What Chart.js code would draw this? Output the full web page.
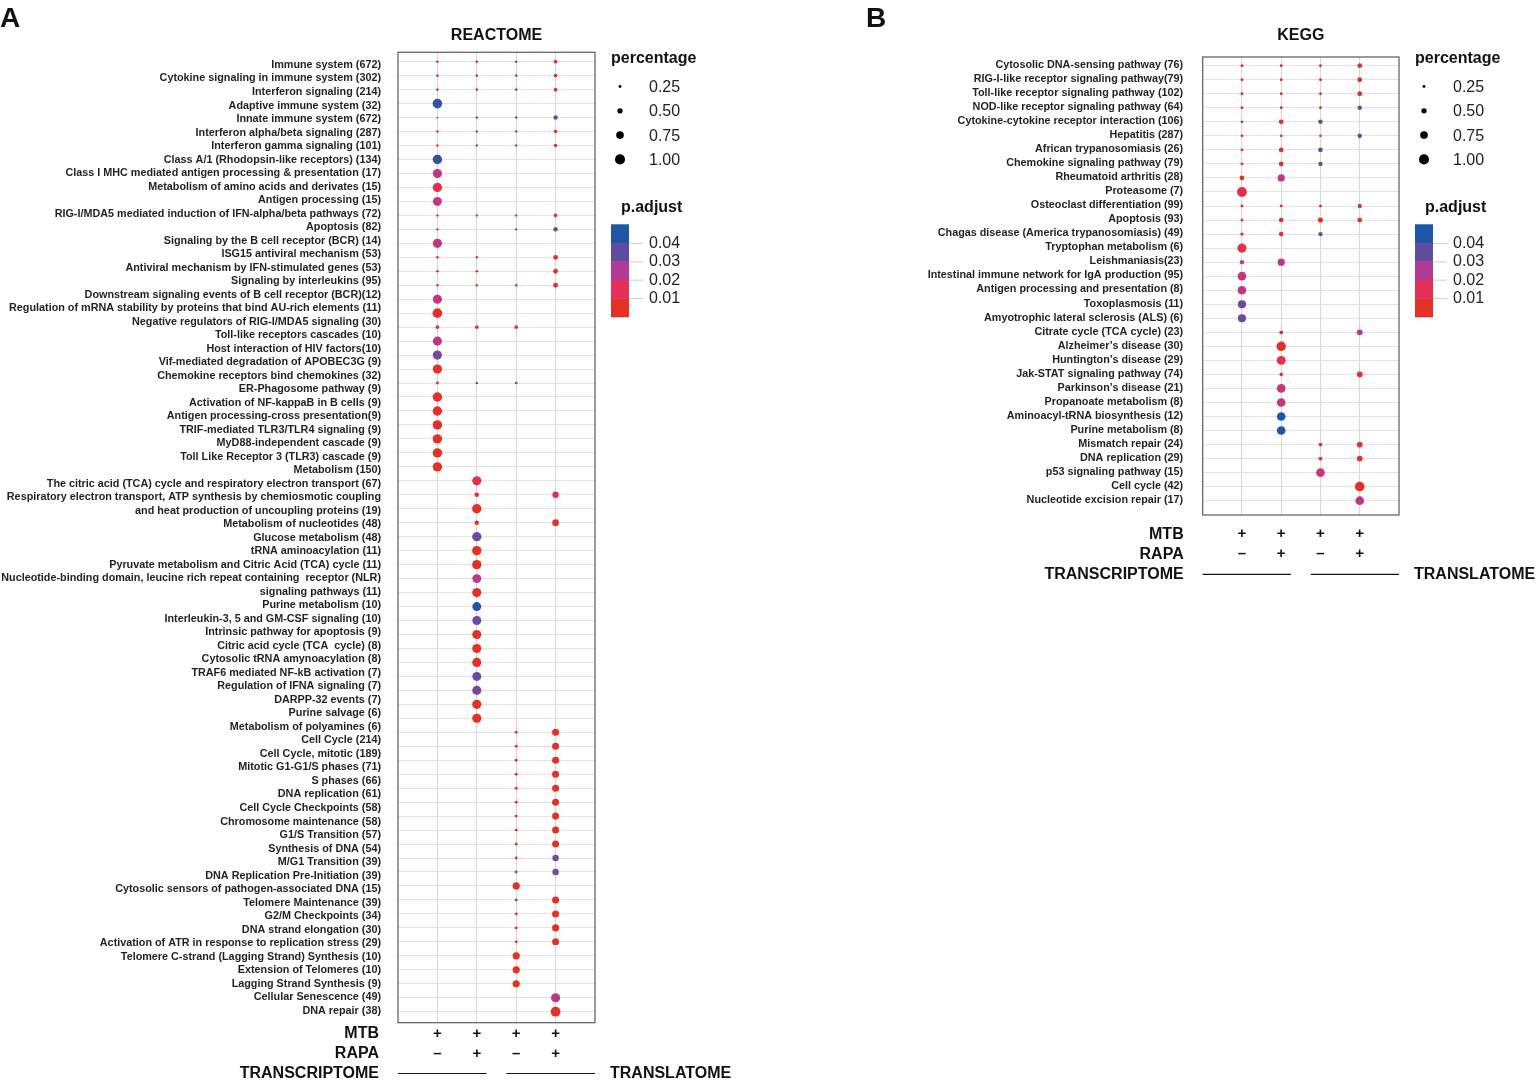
<!DOCTYPE html>
<html lang="en">
<head>
<meta charset="UTF-8">
<title>REACTOME / KEGG enrichment</title>
<script src="https://cdn.jsdelivr.net/npm/chart.js"></script>
<style>
  html, body { margin: 0; padding: 0; background: #fff; }
  body { width: 1536px; height: 1081px; position: relative; overflow: hidden; }
  canvas { position: absolute; top: 0; }
  #chartA { left: 0; width: 760px; height: 1081px; }
  #chartB { left: 860px; width: 676px; height: 1081px; }
</style>
</head>
<body>
<canvas id="chartA" width="760" height="1081"></canvas>
<canvas id="chartB" width="676" height="1081"></canvas>
<script>
const _ = null;

// columns: transcriptome (-/+ RAPA), translatome (-/+ RAPA)
const columnMTB = ['+', '+', '+', '+'];
const columnRAPA = ['–', '+', '–', '+'];
const sizeBreaks = [0.25, 0.50, 0.75, 1.00];
const padjBreaks = [0.04, 0.03, 0.02, 0.01];

// label lines as printed (two terms wrap over two lines, one line has no row of its own)
const reactomeLabels = [
  'Immune system (672)',
  'Cytokine signaling in immune system (302)',
  'Interferon signaling (214)',
  'Adaptive immune system (32)',
  'Innate immune system (672)',
  'Interferon alpha/beta signaling (287)',
  'Interferon gamma signaling (101)',
  'Class A/1 (Rhodopsin-like receptors) (134)',
  'Class I MHC mediated antigen processing & presentation (17)',
  'Metabolism of amino acids and derivates (15)',
  'Antigen processing (15)',
  'RIG-I/MDA5 mediated induction of IFN-alpha/beta pathways (72)',
  'Apoptosis (82)',
  'Signaling by the B cell receptor (BCR) (14)',
  'ISG15 antiviral mechanism (53)',
  'Antiviral mechanism by IFN-stimulated genes (53)',
  'Signaling by interleukins (95)',
  'Downstream signaling events of B cell receptor (BCR)(12)',
  'Regulation of mRNA stability by proteins that bind AU-rich elements (11)',
  'Negative regulators of RIG-I/MDA5 signaling (30)',
  'Toll-like receptors cascades (10)',
  'Host interaction of HIV factors(10)',
  'Vif-mediated degradation of APOBEC3G (9)',
  'Chemokine receptors bind chemokines (32)',
  'ER-Phagosome pathway (9)',
  'Activation of NF-kappaB in B cells (9)',
  'Antigen processing-cross presentation(9)',
  'TRIF-mediated TLR3/TLR4 signaling (9)',
  'MyD88-independent cascade (9)',
  'Toll Like Receptor 3 (TLR3) cascade (9)',
  'Metabolism (150)',
  'The citric acid (TCA) cycle and respiratory electron transport (67)',
  'Respiratory electron transport, ATP synthesis by chemiosmotic coupling',
  'and heat production of uncoupling proteins (19)',
  'Metabolism of nucleotides (48)',
  'Glucose metabolism (48)',
  'tRNA aminoacylation (11)',
  'Pyruvate metabolism and Citric Acid (TCA) cycle (11)',
  'Nucleotide-binding domain, leucine rich repeat containing  receptor (NLR)',
  'signaling pathways (11)',
  'Purine metabolism (10)',
  'Interleukin-3, 5 and GM-CSF signaling (10)',
  'Intrinsic pathway for apoptosis (9)',
  'Citric acid cycle (TCA  cycle) (8)',
  'Cytosolic tRNA amynoacylation (8)',
  'TRAF6 mediated NF-kB activation (7)',
  'Regulation of IFNA signaling (7)',
  'DARPP-32 events (7)',
  'Purine salvage (6)',
  'Metabolism of polyamines (6)',
  'Cell Cycle (214)',
  'Cell Cycle, mitotic (189)',
  'Mitotic G1-G1/S phases (71)',
  'S phases (66)',
  'DNA replication (61)',
  'Cell Cycle Checkpoints (58)',
  'Chromosome maintenance (58)',
  'G1/S Transition (57)',
  'Synthesis of DNA (54)',
  'M/G1 Transition (39)',
  'DNA Replication Pre-Initiation (39)',
  'Cytosolic sensors of pathogen-associated DNA (15)',
  'Telomere Maintenance (39)',
  'G2/M Checkpoints (34)',
  'DNA strand elongation (30)',
  'Activation of ATR in response to replication stress (29)',
  'Telomere C-strand (Lagging Strand) Synthesis (10)',
  'Extension of Telomeres (10)',
  'Lagging Strand Synthesis (9)',
  'Cellular Senescence (49)',
  'DNA repair (38)'
];

// percentage per column, one entry per dot row (null = not enriched)
const reactomePct1 = [
  .22, .22, .22, .95, .14, .2, .2, .93, .9, .92,
  .88, .2, .2, .9, .22, .22, .22, .9, .95, .32,
  .9, .9, .92, .25, .93, .93, .93, .93, .93, .93,
  _, _, _, _, _, _, _, _, _, _,
  _, _, _, _, _, _, _, _, _, _,
  _, _, _, _, _, _, _, _, _, _,
  _, _, _, _, _, _, _, _, _
];
const reactomePct2 = [
  .22, .22, .22, _, .2, .2, .2, _, _, _,
  _, .2, _, _, .22, .22, .22, _, _, .32,
  _, _, _, .22, _, _, _, _, _, _,
  .9, .42, .93, .42, .92, .92, .92, .88, .9, .88,
  .88, .9, .9, .9, .88, .9, .9, .9, _, _,
  _, _, _, _, _, _, _, _, _, _,
  _, _, _, _, _, _, _, _, _
];
const reactomePct3 = [
  .22, .22, .22, _, .2, .2, .2, _, _, _,
  _, .2, .2, _, _, _, .22, _, _, .32,
  _, _, _, .22, _, _, _, _, _, _,
  _, _, _, _, _, _, _, _, _, _,
  _, _, _, _, _, _, _, _, .25, .25,
  .25, .25, .25, .25, .25, .25, .25, .25, .25, .7,
  .25, .25, .25, .25, .7, .7, .7, _, _
];
const reactomePct4 = [
  .33, .33, .33, _, .42, .32, .32, _, _, _,
  _, .32, .42, _, .45, .45, .45, _, _, _,
  _, _, _, _, _, _, _, _, _, _,
  _, .62, _, .65, _, _, _, _, _, _,
  _, _, _, _, _, _, _, _, .68, .68,
  .68, .68, .68, .68, .68, .68, .68, .62, .62, _,
  .68, .68, .68, .68, _, _, _, .9, .97
];

// p.adjust per column
const reactomePadj1 = [
  .003, .003, .003, .042, .034, .003, .003, .042, .022, .012,
  .021, .003, .022, .022, .003, .003, .003, .021, .004, .003,
  .022, .032, .005, .004, .004, .004, .004, .004, .004, .004,
  _, _, _, _, _, _, _, _, _, _,
  _, _, _, _, _, _, _, _, _, _,
  _, _, _, _, _, _, _, _, _, _,
  _, _, _, _, _, _, _, _, _
];
const reactomePadj2 = [
  .003, .003, .003, _, .034, .003, .003, _, _, _,
  _, .003, _, _, .003, .003, .003, _, _, .003,
  _, _, _, .033, _, _, _, _, _, _,
  .012, .004, .004, .004, .033, .004, .004, .023, .004, .044,
  .033, .004, .004, .004, .033, .032, .004, .004, _, _,
  _, _, _, _, _, _, _, _, _, _,
  _, _, _, _, _, _, _, _, _
];
const reactomePadj3 = [
  .003, .003, .003, _, .034, .003, .003, _, _, _,
  _, .003, .022, _, _, _, .003, _, _, .003,
  _, _, _, .033, _, _, _, _, _, _,
  _, _, _, _, _, _, _, _, _, _,
  _, _, _, _, _, _, _, _, .005, .005,
  .005, .005, .005, .005, .005, .005, .005, .005, .005, .004,
  .005, .005, .005, .005, .004, .004, .004, _, _
];
const reactomePadj4 = [
  .004, .004, .004, _, .032, .004, .004, _, _, _,
  _, .004, .032, _, .004, .004, .004, _, _, _,
  _, _, _, _, _, _, _, _, _, _,
  _, .012, _, .005, _, _, _, _, _, _,
  _, _, _, _, _, _, _, _, .004, .004,
  .004, .004, .004, .004, .004, .004, .004, .033, .033, _,
  .004, .004, .004, .004, _, _, _, .023, .004
];

const keggLabels = [
  'Cytosolic DNA-sensing pathway (76)',
  'RIG-I-like receptor signaling pathway(79)',
  'Toll-like receptor signaling pathway (102)',
  'NOD-like receptor signaling pathway (64)',
  'Cytokine-cytokine receptor interaction (106)',
  'Hepatitis (287)',
  'African trypanosomiasis (26)',
  'Chemokine signaling pathway (79)',
  'Rheumatoid arthritis (28)',
  'Proteasome (7)',
  'Osteoclast differentiation (99)',
  'Apoptosis (93)',
  'Chagas disease (America trypanosomiasis) (49)',
  'Tryptophan metabolism (6)',
  'Leishmaniasis(23)',
  'Intestinal immune network for IgA production (95)',
  'Antigen processing and presentation (8)',
  'Toxoplasmosis (11)',
  'Amyotrophic lateral sclerosis (ALS) (6)',
  'Citrate cycle (TCA cycle) (23)',
  'Alzheimer’s disease (30)',
  'Huntington’s disease (29)',
  'Jak-STAT signaling pathway (74)',
  'Parkinson’s disease (21)',
  'Propanoate metabolism (8)',
  'Aminoacyl-tRNA biosynthesis (12)',
  'Purine metabolism (8)',
  'Mismatch repair (24)',
  'DNA replication (29)',
  'p53 signaling pathway (15)',
  'Cell cycle (42)',
  'Nucleotide excision repair (17)'
];

const keggPct1 = [
  .25, .25, .25, .25, .25, .25, .25, .25, .45, .97,
  .25, .25, .3, .9, .4, .85, .85, .8, .8, _,
  _, _, _, _, _, _, _, _, _, _,
  _, _
];
const keggPct2 = [
  .25, .25, .25, .25, .45, .25, .45, .45, .7, _,
  .25, .45, .45, _, .7, _, _, _, _, .35,
  .93, .88, .32, .85, .85, .85, .85, _, _, _,
  _, _
];
const keggPct3 = [
  .25, .25, .25, .25, .42, .25, .42, .4, _, _,
  .25, .48, .4, _, _, _, _, _, _, _,
  _, _, _, _, _, _, _, .35, .35, .85,
  _, _
];
const keggPct4 = [
  .45, .45, .45, .42, _, .42, _, _, _, _,
  .4, .45, _, _, _, _, _, _, _, .55,
  _, _, .55, _, _, _, _, .55, .55, _,
  .95, .85
];

const keggPadj1 = [
  .004, .004, .004, .004, .004, .004, .004, .004, .005, .011,
  .004, .004, .005, .011, .023, .021, .021, .034, .034, _,
  _, _, _, _, _, _, _, _, _, _,
  _, _
];
const keggPadj2 = [
  .004, .004, .004, .004, .005, .024, .005, .005, .023, _,
  .004, .005, .01, _, .024, _, _, _, _, .004,
  .004, .012, .004, .021, .021, .045, .045, _, _, _,
  _, _
];
const keggPadj3 = [
  .004, .004, .004, .004, .034, .024, .034, .034, _, _,
  .004, .005, .034, _, _, _, _, _, _, _,
  _, _, _, _, _, _, _, .004, .004, .02,
  _, _
];
const keggPadj4 = [
  .005, .005, .005, .033, _, .033, _, _, _, _,
  .024, .005, _, _, _, _, _, _, _, .024,
  _, _, .005, _, _, _, _, .005, .005, _,
  .005, .023
];

const FONT = '"Liberation Sans", Arial, sans-serif';

// colour ramp for p.adjust (red -> blue)
const rampAt = [0.005, 0.015, 0.025, 0.035, 0.045];
const rampRGB = [[228, 49, 39], [228, 48, 90], [180, 58, 148], [98, 76, 158], [28, 86, 164]];

function padjColor(p) {
  if (p <= rampAt[0]) return `rgb(${rampRGB[0]})`;
  for (let i = 1; i < rampAt.length; i++) {
    if (p <= rampAt[i]) {
      const t = (p - rampAt[i - 1]) / (rampAt[i] - rampAt[i - 1]);
      const c = rampRGB[i - 1].map((v, k) => Math.round(v + (rampRGB[i][k] - v) * t));
      return `rgb(${c})`;
    }
  }
  return `rgb(${rampRGB[rampRGB.length - 1]})`;
}

function sizeToRadius(pct) {
  return Math.max(0.6, 0.25 + 4.8 * pct);
}

const panelDecor = {
  id: 'panelDecor',
  afterDraw(chart, args, o) {
    const { ctx, chartArea: a, scales: { x } } = chart;
    ctx.save();

    // frame
    ctx.strokeStyle = '#5a5a5a';
    ctx.lineWidth = 1.2;
    ctx.strokeRect(a.left, a.top, a.right - a.left, a.bottom - a.top);

    ctx.fillStyle = '#111';
    ctx.textBaseline = 'middle';

    // panel letter and title
    ctx.font = `bold 28px ${FONT}`;
    ctx.textAlign = 'left';
    ctx.fillText(o.letter, o.letterX, 19);
    ctx.font = `bold 16px ${FONT}`;
    ctx.textAlign = 'center';
    ctx.fillText(o.title, (a.left + a.right) / 2, a.top - o.titleGap);

    // size legend
    const lx = a.right;
    ctx.textAlign = 'left';
    ctx.fillText('percentage', lx + 16, 59);
    ctx.font = `16px ${FONT}`;
    sizeBreaks.forEach((s, i) => {
      const y = 87.5 + i * 24.3;
      ctx.beginPath();
      ctx.fillStyle = '#000';
      ctx.arc(lx + 25, y - 1, sizeToRadius(s), 0, Math.PI * 2);
      ctx.fill();
      ctx.fillStyle = '#222';
      ctx.fillText(s.toFixed(2), lx + 54, y);
    });

    // p.adjust colour bar
    ctx.fillStyle = '#111';
    ctx.font = `bold 16px ${FONT}`;
    ctx.fillText('p.adjust', lx + 26, 208);
    const barTop = 224.3, band = 18.5, nBands = 5, barMax = 0.0505;
    const barBottom = barTop + band * nBands;
    for (let i = 0; i < nBands; i++) {
      const mid = barMax * (nBands - i - 0.5) / nBands;
      ctx.fillStyle = padjColor(mid);
      ctx.fillRect(lx + 16, barTop + i * band, 18, band + 0.5);
    }
    ctx.font = `16px ${FONT}`;
    padjBreaks.forEach(v => {
      const y = barBottom - v / barMax * (barBottom - barTop);
      ctx.strokeStyle = '#cfcfcf';
      ctx.lineWidth = 1;
      ctx.beginPath();
      ctx.moveTo(lx + 34, y);
      ctx.lineTo(lx + 48, y);
      ctx.stroke();
      ctx.fillStyle = '#222';
      ctx.fillText(v.toFixed(2), lx + 54, y);
    });

    // condition annotation under the plot
    const [yMtb, yRapa, yOmics] = o.annotY.map(d => a.bottom + d);
    ctx.fillStyle = '#111';
    ctx.font = `bold 16px ${FONT}`;
    ctx.textAlign = 'right';
    ctx.fillText('MTB', a.left - 19, yMtb);
    ctx.fillText('RAPA', a.left - 19, yRapa);
    ctx.fillText('TRANSCRIPTOME', a.left - 19, yOmics);
    ctx.textAlign = 'left';
    ctx.fillText('TRANSLATOME', a.right + 15, yOmics);
    ctx.textAlign = 'center';
    ctx.font = `bold 15px ${FONT}`;
    columnMTB.forEach((m, i) => ctx.fillText(m, x.getPixelForValue(i), yMtb));
    columnRAPA.forEach((m, i) => ctx.fillText(m, x.getPixelForValue(i), yRapa));
    const gap = x.getPixelForValue(1.5);
    ctx.strokeStyle = '#111';
    ctx.lineWidth = 1.2;
    ctx.beginPath();
    ctx.moveTo(a.left, yOmics);
    ctx.lineTo(gap - 10, yOmics);
    ctx.moveTo(gap + 10, yOmics);
    ctx.lineTo(a.right, yOmics);
    ctx.stroke();

    ctx.restore();
  }
};

function makePanel(canvasId, cfg) {
  const rows = cfg.pct[0].length;
  const points = [];
  cfg.pct.forEach((col, c) => col.forEach((v, row) => {
    if (v !== null) points.push({ x: c, y: row, pct: v, padj: cfg.padj[c][row] });
  }));

  return new Chart(document.getElementById(canvasId), {
    type: 'scatter',
    data: {
      datasets: [{
        data: points,
        pointRadius: ctx => ctx.raw ? sizeToRadius(ctx.raw.pct) : 0,
        pointBackgroundColor: ctx => ctx.raw ? padjColor(ctx.raw.padj) : '#000',
        pointBorderWidth: 0
      }]
    },
    options: {
      responsive: false,
      animation: false,
      devicePixelRatio: 1,
      events: [],
      layout: { padding: cfg.padding },
      plugins: {
        legend: { display: false },
        tooltip: { enabled: false },
        panelDecor: cfg.decor
      },
      scales: {
        x: {
          type: 'linear',
          min: -1,
          max: 4,
          afterBuildTicks: s => { s.ticks = columnMTB.map((m, i) => ({ value: i })); },
          afterFit: s => { s.height = 0; },
          ticks: { display: false },
          grid: { color: '#d8d8d8', drawTicks: false },
          border: { display: false }
        },
        // dot rows (grid only)
        y: {
          type: 'linear',
          position: 'left',
          reverse: true,
          min: -cfg.rowPad[0],
          max: rows - 1 + cfg.rowPad[1],
          afterBuildTicks: s => { s.ticks = Array.from({ length: rows }, (v, i) => ({ value: i })); },
          afterFit: s => { s.width = 0; },
          ticks: { display: false },
          grid: { color: '#e2e2e2', drawTicks: false },
          border: { display: false }
        },
        // printed label lines
        yl: {
          type: 'linear',
          position: 'left',
          reverse: true,
          min: -cfg.labelPad[0],
          max: cfg.labels.length - 1 + cfg.labelPad[1],
          afterBuildTicks: s => { s.ticks = cfg.labels.map((t, i) => ({ value: i })); },
          afterFit: s => { s.width = cfg.axisWidth; },
          ticks: {
            autoSkip: false,
            padding: cfg.labelGap,
            color: '#231f20',
            font: { family: FONT, weight: 'bold', size: 10.8 },
            callback: v => cfg.labels[v]
          },
          grid: { display: false, drawTicks: false },
          border: { display: false }
        }
      }
    },
    plugins: [panelDecor]
  });
}

makePanel('chartA', {
  labels: reactomeLabels,
  pct: [reactomePct1, reactomePct2, reactomePct3, reactomePct4],
  padj: [reactomePadj1, reactomePadj2, reactomePadj3, reactomePadj4],
  padding: { left: 0, top: 52.3, right: 165, bottom: 58.3 },
  axisWidth: 398,
  labelGap: 17,
  rowPad: [0.673, 0.787],
  labelPad: [0.94, 0.89],
  decor: { letter: 'A', letterX: 0, title: 'REACTOME', titleGap: 16.3, annotY: [11.3, 31.3, 50.8] }
});

makePanel('chartB', {
  labels: keggLabels,
  pct: [keggPct1, keggPct2, keggPct3, keggPct4],
  padj: [keggPadj1, keggPadj2, keggPadj3, keggPadj4],
  padding: { left: 0, top: 57, right: 137, bottom: 566 },
  axisWidth: 342.7,
  labelGap: 19.5,
  rowPad: [0.62, 1.02],
  labelPad: [0.57, 1.07],
  decor: { letter: 'B', letterX: 6, title: 'KEGG', titleGap: 21.3, annotY: [19.3, 39.3, 59.3] }
});
</script>
</body>
</html>
